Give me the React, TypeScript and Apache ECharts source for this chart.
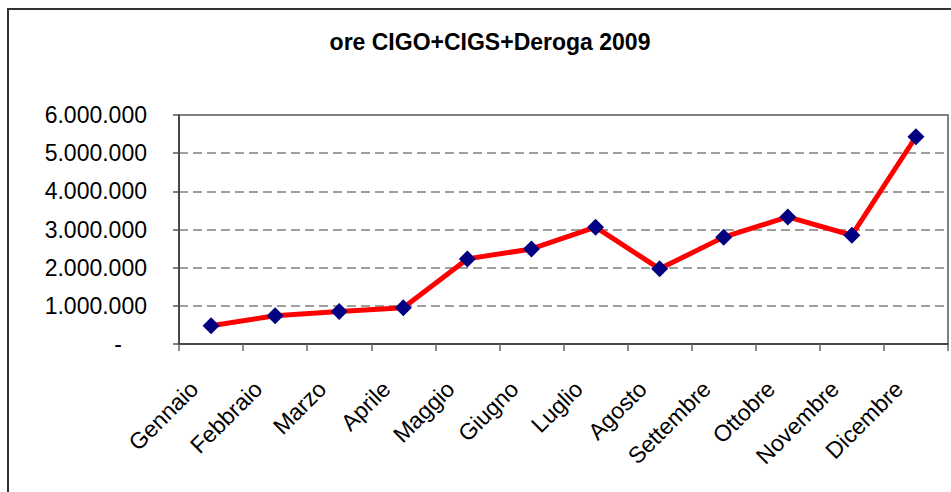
import React, { useEffect, useRef } from "react";
import * as echarts from "echarts";

const titleText = "ore CIGO+CIGS+Deroga 2009";
const months = [
  "Gennaio",
  "Febbraio",
  "Marzo",
  "Aprile",
  "Maggio",
  "Giugno",
  "Luglio",
  "Agosto",
  "Settembre",
  "Ottobre",
  "Novembre",
  "Dicembre",
];
const hours = [
  480000, 740000, 850000, 950000, 2230000, 2490000, 3060000, 1970000,
  2800000, 3330000, 2850000, 5430000,
];
const yMin = 0;
const yMax = 6000000;
const yStep = 1000000;

const FONT = '"Liberation Sans", Arial, sans-serif';

function fmt(v: number): string {
  if (v === 0) return "{z|-}";
  return String(Math.round(v)).replace(/\B(?=(\d{3})+(?!\d))/g, ".");
}

export default function App() {
  const ref = useRef<HTMLDivElement>(null);
  useEffect(() => {
    document.body.style.margin = "0";
    if (!ref.current) return;
    const chart = echarts.init(ref.current, undefined, { renderer: "svg" });
    chart.setOption({
      animation: false,
      backgroundColor: "#ffffff",
      title: {
        text: titleText,
        left: 490,
        top: 30,
        textAlign: "center",
        padding: 0,
        textStyle: {
          fontFamily: FONT,
          fontSize: 23,
          fontWeight: "bold",
          color: "#000",
        },
      },
      graphic: [
        {
          type: "rect",
          shape: { x: 8, y: 9, width: 960, height: 500 },
          style: { fill: "none", stroke: "#333", lineWidth: 2 },
          silent: true,
          z: 100,
        },
      ],
      grid: {
        left: 179,
        top: 115,
        right: 3,
        bottom: 148,
        show: true,
        borderColor: "#808080",
        borderWidth: 2,
        backgroundColor: "transparent",
      },
      xAxis: {
        type: "category",
        data: months,
        boundaryGap: true,
        axisLine: { show: true, lineStyle: { color: "#333", width: 1.5 } },
        axisTick: {
          show: true,
          length: 7,
          alignWithLabel: false,
          lineStyle: { color: "#666", width: 1.5 },
        },
        axisLabel: {
          interval: 0,
          rotate: 45,
          margin: 24,
          padding: [0, 24, 0, 0],
          fontFamily: FONT,
          fontSize: 23,
          color: "#000",
        },
        splitLine: { show: false },
      },
      yAxis: {
        type: "value",
        min: yMin,
        max: yMax,
        interval: yStep,
        axisLine: { show: true, lineStyle: { color: "#333", width: 1.5 } },
        axisTick: {
          show: true,
          length: 6,
          lineStyle: { color: "#555", width: 1.5 },
        },
        axisLabel: {
          margin: 32,
          fontFamily: FONT,
          fontSize: 23,
          color: "#000",
          formatter: fmt,
          rich: {
            z: {
              fontFamily: FONT,
              fontSize: 23,
              color: "#000",
              padding: [0, 25, 0, 0],
            },
          },
        },
        splitLine: {
          show: true,
          lineStyle: { color: "#808080", width: 1.5, type: [9, 5] },
        },
      },
      series: [
        {
          type: "line",
          data: hours,
          lineStyle: { color: "#ff0000", width: 5 },
          symbol: "diamond",
          symbolSize: 17,
          itemStyle: { color: "#000080", borderWidth: 0 },
          z: 3,
        },
      ],
    });
    return () => chart.dispose();
  }, []);
  return <div ref={ref} style={{ width: 951, height: 492 }} />;
}
